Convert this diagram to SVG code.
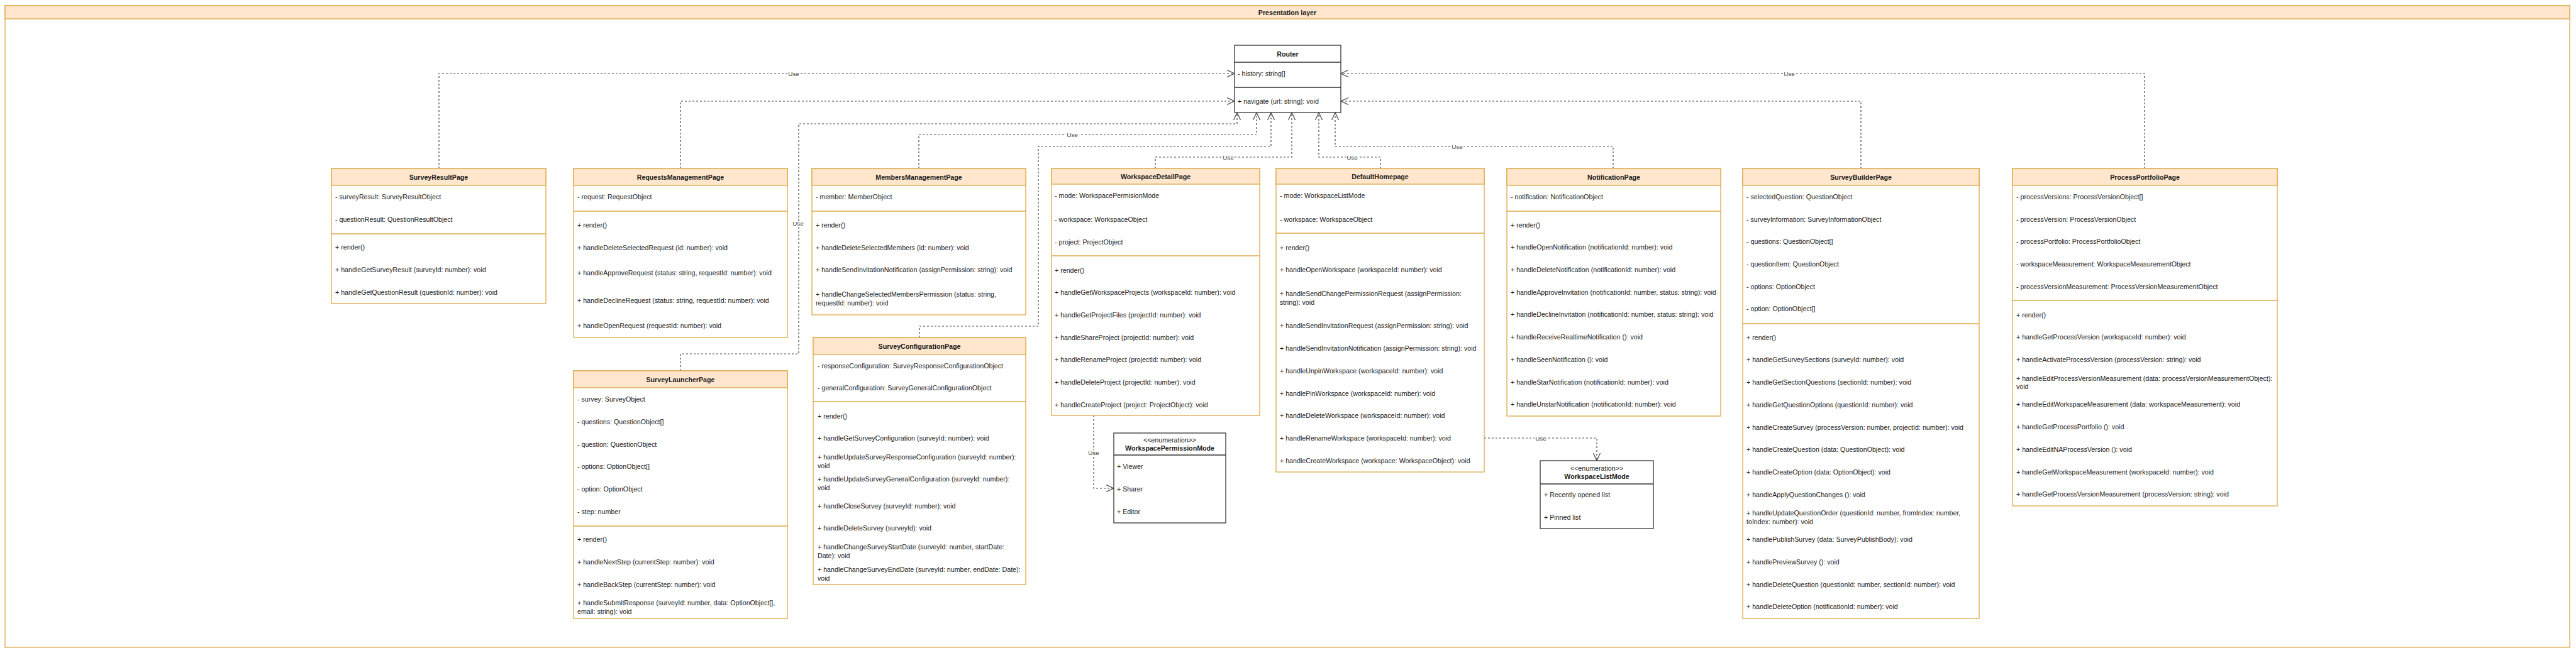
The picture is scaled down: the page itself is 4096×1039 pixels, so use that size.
<svg xmlns="http://www.w3.org/2000/svg" width="4096" height="1039" viewBox="0 0 4096 1039">
<style>
text{font-family:"Liberation Sans",Arial,sans-serif;font-size:10.67px;fill:#1a1a1a;dominant-baseline:central}
.b{font-weight:bold}
.m{text-anchor:middle}
.box{fill:#fff;stroke:#dcaa45;stroke-width:1.3}
.hd{fill:#ffe6cc;stroke:#dcaa45;stroke-width:1.3}
.dv{stroke:#dcaa45;stroke-width:1.3}
.kbox{fill:#fff;stroke:#333;stroke-width:1.3}
.kdv{stroke:#333;stroke-width:1.3}
.c{fill:none;stroke:#444;stroke-width:1.2;stroke-dasharray:3 3;marker-end:url(#arr)}
.lbl{font-size:9.8px;fill:#444;text-anchor:middle;paint-order:stroke;stroke:#fff;stroke-width:4px}
</style>
<defs>
<marker id="arr" markerUnits="userSpaceOnUse" markerWidth="14" markerHeight="14" viewBox="0 0 14 14" refX="12.5" refY="6" orient="auto">
<path d="M0.5,0.5 L12.5,6 L0.5,11.5" fill="none" stroke="#444" stroke-width="1.2"/>
</marker>
</defs>
<rect width="4096" height="1039" fill="#fff"/>
<g id="presentation-layer">
<rect x="8" y="9" width="4078" height="1021" class="box"/>
<rect x="8" y="9" width="4078" height="21" class="hd"/>
<text x="2047" y="19.5" class="b m">Presentation layer</text>
</g>
<g id="connectors">
<path class="c" d="M698 268 V117 H1963"/>
<text class="lbl" x="1262" y="117">Use</text>
<path class="c" d="M1082 268 V161 H1963"/>
<path class="c" d="M1082 590 V563 H1270 V197 H1967 V179"/>
<text class="lbl" x="1269" y="355">Use</text>
<path class="c" d="M1461 268 V214 H1998 V179"/>
<text class="lbl" x="1705" y="214">Use</text>
<path class="c" d="M1462 537 V519 H1651 V233 H2021 V179"/>
<path class="c" d="M1837 268 V250 H2054 V179"/>
<text class="lbl" x="1953" y="250">Use</text>
<path class="c" d="M2195 268 V250 H2097 V179"/>
<text class="lbl" x="2150" y="250">Use</text>
<path class="c" d="M2565 268 V233 H2123 V179"/>
<text class="lbl" x="2317" y="233">Use</text>
<path class="c" d="M2959 268 V161 H2132"/>
<path class="c" d="M3410 268 V117 H2132"/>
<text class="lbl" x="2845" y="117">Use</text>
<path class="c" d="M1739 661 V777 H1771"/>
<text class="lbl" x="1739" y="720">Use</text>
<path class="c" d="M2360 697 H2539 V733"/>
<text class="lbl" x="2450" y="697">Use</text>
</g>
<g id="Router">
<rect x="1963" y="72" width="169" height="107" class="kbox"/>
<line x1="1963" y1="99" x2="2132" y2="99" class="kdv"/>
<line x1="1963" y1="139" x2="2132" y2="139" class="kdv"/>
<text x="2047.5" y="85.5" class="b m">Router</text>
<text x="1968" y="117">- history: string[]</text>
<text x="1968" y="161">+ navigate (url: string): void</text>
</g>
<g id="SurveyResultPage">
<rect x="527" y="268" width="341" height="215" class="box"/>
<rect x="527" y="268" width="341" height="27" class="hd"/>
<line x1="527" y1="372" x2="868" y2="372" class="dv"/>
<text x="697.5" y="281.5" class="b m">SurveyResultPage</text>
<text x="533" y="313">- surveyResult: SurveyResultObject</text>
<text x="533" y="349">- questionResult: QuestionResultObject</text>
<text x="533" y="393">+ render()</text>
<text x="533" y="429">+ handleGetSurveyResult (surveyId: number): void</text>
<text x="533" y="465">+ handleGetQuestionResult (questionId: number): void</text>
</g>
<g id="RequestsManagementPage">
<rect x="912" y="268" width="340" height="269" class="box"/>
<rect x="912" y="268" width="340" height="27" class="hd"/>
<line x1="912" y1="336" x2="1252" y2="336" class="dv"/>
<text x="1082" y="281.5" class="b m">RequestsManagementPage</text>
<text x="918" y="313">- request: RequestObject</text>
<text x="918" y="358">+ render()</text>
<text x="918" y="394">+ handleDeleteSelectedRequest (id: number): void</text>
<text x="918" y="434">+ handleApproveRequest (status: string, requestId: number): void</text>
<text x="918" y="478">+ handleDeclineRequest (status: string, requestId: number): void</text>
<text x="918" y="518">+ handleOpenRequest (requestId: number): void</text>
</g>
<g id="SurveyLauncherPage">
<rect x="912" y="590" width="340" height="394" class="box"/>
<rect x="912" y="590" width="340" height="27" class="hd"/>
<line x1="912" y1="837" x2="1252" y2="837" class="dv"/>
<text x="1082" y="603.5" class="b m">SurveyLauncherPage</text>
<text x="918" y="635">- survey: SurveyObject</text>
<text x="918" y="671">- questions: QuestionObject[]</text>
<text x="918" y="707">- question: QuestionObject</text>
<text x="918" y="742">- options: OptionObject[]</text>
<text x="918" y="778">- option: OptionObject</text>
<text x="918" y="814">- step: number</text>
<text x="918" y="858">+ render()</text>
<text x="918" y="894">+ handleNextStep (currentStep: number): void</text>
<text x="918" y="930">+ handleBackStep (currentStep: number): void</text>
<text x="918" y="959">+ handleSubmitResponse (surveyId: number, data: OptionObject[],</text>
<text x="918" y="972.5">email: string): void</text>
</g>
<g id="MembersManagementPage">
<rect x="1291" y="268" width="340" height="233" class="box"/>
<rect x="1291" y="268" width="340" height="27" class="hd"/>
<line x1="1291" y1="336" x2="1631" y2="336" class="dv"/>
<text x="1461" y="281.5" class="b m">MembersManagementPage</text>
<text x="1297" y="313">- member: MemberObject</text>
<text x="1297" y="358">+ render()</text>
<text x="1297" y="394">+ handleDeleteSelectedMembers (id: number): void</text>
<text x="1297" y="429">+ handleSendInvitationNotification (assignPermission: string): void</text>
<text x="1297" y="468">+ handleChangeSelectedMembersPermission (status: string,</text>
<text x="1297" y="481.5">requestId: number): void</text>
</g>
<g id="SurveyConfigurationPage">
<rect x="1293" y="537" width="338" height="393" class="box"/>
<rect x="1293" y="537" width="338" height="27" class="hd"/>
<line x1="1293" y1="639" x2="1631" y2="639" class="dv"/>
<text x="1462" y="550.5" class="b m">SurveyConfigurationPage</text>
<text x="1300" y="582">- responseConfiguration: SurveyResponseConfigurationObject</text>
<text x="1300" y="617">- generalConfiguration: SurveyGeneralConfigurationObject</text>
<text x="1300" y="662">+ render()</text>
<text x="1300" y="697">+ handleGetSurveyConfiguration (surveyId: number): void</text>
<text x="1300" y="727">+ handleUpdateSurveyResponseConfiguration (surveyId: number):</text>
<text x="1300" y="740.5">void</text>
<text x="1300" y="762">+ handleUpdateSurveyGeneralConfiguration  (surveyId: number):</text>
<text x="1300" y="775.5">void</text>
<text x="1300" y="805">+ handleCloseSurvey (surveyId: number): void</text>
<text x="1300" y="840">+ handleDeleteSurvey (surveyId): void</text>
<text x="1300" y="870">+ handleChangeSurveyStartDate (surveyId: number, startDate:</text>
<text x="1300" y="883.5">Date): void</text>
<text x="1300" y="906">+ handleChangeSurveyEndDate (surveyId: number, endDate: Date):</text>
<text x="1300" y="919.5">void</text>
</g>
<g id="WorkspaceDetailPage">
<rect x="1672" y="268" width="331" height="393" class="box"/>
<rect x="1672" y="268" width="331" height="25" class="hd"/>
<line x1="1672" y1="407" x2="2003" y2="407" class="dv"/>
<text x="1837.5" y="280.5" class="b m">WorkspaceDetailPage</text>
<text x="1677" y="311">- mode: WorkspacePermisionMode</text>
<text x="1677" y="349">- workspace: WorkspaceObject</text>
<text x="1677" y="385">- project: ProjectObject</text>
<text x="1677" y="430">+ render()</text>
<text x="1677" y="465">+ handleGetWorkspaceProjects (workspaceId: number): void</text>
<text x="1677" y="501">+ handleGetProjectFiles (projectId: number): void</text>
<text x="1677" y="537">+ handleShareProject (projectId: number): void</text>
<text x="1677" y="572">+ handleRenameProject (projectId: number): void</text>
<text x="1677" y="608">+ handleDeleteProject (projectId: number): void</text>
<text x="1677" y="644">+ handleCreateProject (project: ProjectObject): void</text>
</g>
<g id="WorkspacePermissionMode">
<rect x="1771" y="689" width="178" height="143" class="kbox"/>
<line x1="1771" y1="724" x2="1949" y2="724" class="kdv"/>
<text x="1860" y="700" class="m">&lt;&lt;enumeration&gt;&gt;</text>
<text x="1860" y="713" class="b m">WorkspacePermissionMode</text>
<text x="1776" y="742">+ Viewer</text>
<text x="1776" y="778">+ Sharer</text>
<text x="1776" y="814">+ Editor</text>
</g>
<g id="DefaultHomepage">
<rect x="2029" y="268" width="331" height="483" class="box"/>
<rect x="2029" y="268" width="331" height="25" class="hd"/>
<line x1="2029" y1="371" x2="2360" y2="371" class="dv"/>
<text x="2194.5" y="280.5" class="b m">DefaultHomepage</text>
<text x="2035" y="311">- mode: WorkspaceListMode</text>
<text x="2035" y="349">- workspace: WorkspaceObject</text>
<text x="2035" y="394">+ render()</text>
<text x="2035" y="429">+ handleOpenWorkspace (workspaceId: number): void</text>
<text x="2035" y="467">+ handleSendChangePermissionRequest (assignPermission:</text>
<text x="2035" y="480.5">string): void</text>
<text x="2035" y="518">+ handleSendInvitationRequest (assignPermission: string): void</text>
<text x="2035" y="554">+ handleSendInvitationNotification (assignPermission: string): void</text>
<text x="2035" y="590">+ handleUnpinWorkspace (workspaceId: number): void</text>
<text x="2035" y="626">+ handlePinWorkspace (workspaceId: number): void</text>
<text x="2035" y="661">+ handleDeleteWorkspace (workspaceId: number): void</text>
<text x="2035" y="697">+ handleRenameWorkspace (workspaceId: number): void</text>
<text x="2035" y="733">+ handleCreateWorkspace (workspace: WorkspaceObject): void</text>
</g>
<g id="NotificationPage">
<rect x="2396" y="268" width="340" height="394" class="box"/>
<rect x="2396" y="268" width="340" height="27" class="hd"/>
<line x1="2396" y1="336" x2="2736" y2="336" class="dv"/>
<text x="2566" y="281.5" class="b m">NotificationPage</text>
<text x="2402" y="313">- notification: NotificationObject</text>
<text x="2402" y="358">+ render()</text>
<text x="2402" y="393">+ handleOpenNotification (notificationId: number): void</text>
<text x="2402" y="429">+ handleDeleteNotification (notificationId: number): void</text>
<text x="2402" y="465">+ handleApproveInvitation (notificationId: number, status: string): void</text>
<text x="2402" y="500">+ handleDeclineInvitation (notificationId: number, status: string): void</text>
<text x="2402" y="536">+ handleReceiveRealtimeNotification (): void</text>
<text x="2402" y="572">+ handleSeenNotification (): void</text>
<text x="2402" y="608">+ handleStarNotification (notificationId: number): void</text>
<text x="2402" y="643">+ handleUnstarNotification (notificationId: number): void</text>
</g>
<g id="WorkspaceListMode">
<rect x="2449" y="733" width="180" height="108" class="kbox"/>
<line x1="2449" y1="770" x2="2629" y2="770" class="kdv"/>
<text x="2539" y="745" class="m">&lt;&lt;enumeration&gt;&gt;</text>
<text x="2539" y="758" class="b m">WorkspaceListMode</text>
<text x="2455" y="787">+ Recently opened list</text>
<text x="2455" y="823">+ Pinned list</text>
</g>
<g id="SurveyBuilderPage">
<rect x="2771" y="268" width="376" height="716" class="box"/>
<rect x="2771" y="268" width="376" height="27" class="hd"/>
<line x1="2771" y1="515" x2="3147" y2="515" class="dv"/>
<text x="2959" y="281.5" class="b m">SurveyBuilderPage</text>
<text x="2777" y="313">- selectedQuestion: QuestionObject</text>
<text x="2777" y="348.5">- surveyInformation: SurveyInformationObject</text>
<text x="2777" y="384">- questions: QuestionObject[]</text>
<text x="2777" y="420">- questionItem: QuestionObject</text>
<text x="2777" y="455.5">- options: OptionObject</text>
<text x="2777" y="491">- option: OptionObject[]</text>
<text x="2777" y="536.5">+ render()</text>
<text x="2777" y="572">+ handleGetSurveySections (surveyId: number): void</text>
<text x="2777" y="608">+ handleGetSectionQuestions (sectionId: number): void</text>
<text x="2777" y="643.5">+ handleGetQuestionOptions (questionId: number): void</text>
<text x="2777" y="679.5">+ handleCreateSurvey (processVersion: number, projectId: number): void</text>
<text x="2777" y="715">+ handleCreateQuestion (data: QuestionObject): void</text>
<text x="2777" y="750.5">+ handleCreateOption (data: OptionObject): void</text>
<text x="2777" y="786.5">+ handleApplyQuestionChanges (): void</text>
<text x="2777" y="816">+ handleUpdateQuestionOrder (questionId: number, fromIndex: number,</text>
<text x="2777" y="829.5">toIndex: number): void</text>
<text x="2777" y="858">+ handlePublishSurvey (data: SurveyPublishBody): void</text>
<text x="2777" y="893.5">+ handlePreviewSurvey (): void</text>
<text x="2777" y="929.5">+ handleDeleteQuestion (questionId: number, sectionId: number): void</text>
<text x="2777" y="965">+ handleDeleteOption (notificationId: number): void</text>
</g>
<g id="ProcessPortfolioPage">
<rect x="3200" y="268" width="421" height="537" class="box"/>
<rect x="3200" y="268" width="421" height="27" class="hd"/>
<line x1="3200" y1="478" x2="3621" y2="478" class="dv"/>
<text x="3410.5" y="281.5" class="b m">ProcessPortfolioPage</text>
<text x="3206" y="313">- processVersions: ProcessVersionObject[]</text>
<text x="3206" y="348.5">- processVersion: ProcessVersionObject</text>
<text x="3206" y="384">- processPortfolio: ProcessPortfolioObject</text>
<text x="3206" y="420">- workspaceMeasurement: WorkspaceMeasurementObject</text>
<text x="3206" y="455.5">- processVersionMeasurement: ProcessVersionMeasurementObject</text>
<text x="3206" y="500.5">+ render()</text>
<text x="3206" y="536">+ handleGetProcessVersion (workspaceId: number): void</text>
<text x="3206" y="572">+ handleActivateProcessVersion (processVersion: string): void</text>
<text x="3206" y="601.5">+ handleEditProcessVersionMeasurement (data: processVersionMeasurementObject):</text>
<text x="3206" y="615">void</text>
<text x="3206" y="643">+ handleEditWorkspaceMeasurement (data: workspaceMeasurement): void</text>
<text x="3206" y="679">+ handleGetProcessPortfolio (): void</text>
<text x="3206" y="714.5">+ handleEditNAProcessVersion (): void</text>
<text x="3206" y="750.5">+ handleGetWorkspaceMeasurement (workspaceId: number): void</text>
<text x="3206" y="786">+ handleGetProcessVersionMeasurement (processVersion: string): void</text>
</g>
</svg>
